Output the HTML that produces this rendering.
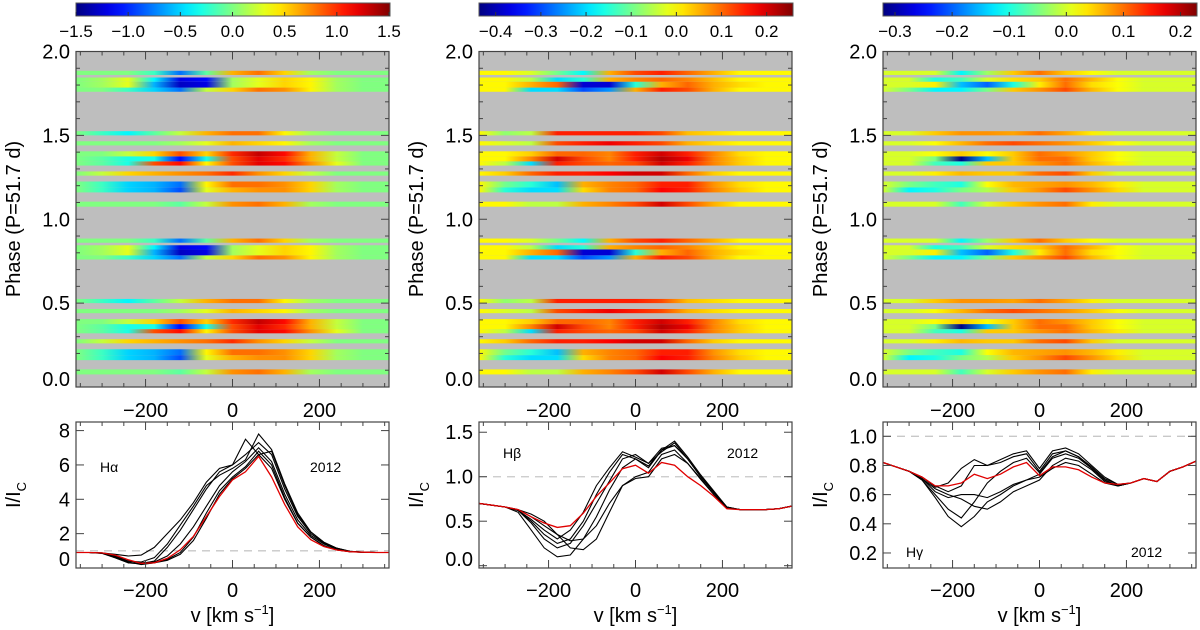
<!DOCTYPE html>
<html><head><meta charset="utf-8"><style>
html,body{margin:0;padding:0;background:#fff}
svg{display:block;font-family:"Liberation Sans",sans-serif}
</style></head><body>
<svg id="fig" width="1200" height="630" viewBox="0 0 1200 630" xmlns="http://www.w3.org/2000/svg"></svg>
<script>
// ---------- DATA ----------
const velocityNodes = [-360,-300,-240,-180,-120,-60,0,60,120,180,240,300,360];
const rowPhaseLow  = [0.075,0.16,0.19,0.26,0.32,0.345,0.375,0.44,0.50,0.76,0.785,0.82,0.86];
const rowPhaseHigh = [0.105,0.19,0.225,0.285,0.345,0.375,0.405,0.465,0.525,0.785,0.82,0.845,0.885];
const haRows = [
[0,0,0,0,-0.1,0.2,0.7,0.8,0.6,0.1,0,0,0],
[0,-0.2,-0.5,-0.6,-0.9,0.3,0.6,0.7,0.7,0.5,0.1,0,0],
[0,-0.2,-0.5,-0.6,-0.8,0.4,0.8,0.8,0.7,0.5,0.1,0,0],
[0,0.2,0.5,0.6,0.7,0.8,1.0,0.7,0.5,0.2,0,0,0],
[0,-0.1,-0.3,0.9,1.1,0.4,0.9,1.2,1.1,0.7,0.3,0,0],
[0,-0.1,-0.3,-0.3,-1.1,-0.3,0.9,1.2,1.0,0.6,0.2,0,0],
[0,0,0.2,0.5,0.9,0.5,1.0,1.3,1.1,0.6,0.2,0,0],
[0,0,0,0,0.1,0.3,0.6,0.5,0.4,0.1,0,0,0],
[0,-0.2,-0.4,-0.1,0.2,0.6,0.8,0.8,0.4,0.1,0,0,0],
[0,0,-0.2,-0.5,-0.8,0.2,0.5,0.8,0.7,0.4,0.1,0,0],
[0,0.1,0.3,-0.6,-1.3,-1.2,0.1,0.3,0.5,0.4,0.1,0,0],
[0,0.1,0.3,-0.4,-1.2,-1.1,0.1,0.3,0.5,0.4,0.1,0,0],
[0,0,0,-0.2,-0.8,-0.1,0.6,0.8,0.5,0.1,0,0,0]];
const hbRows = [
[0,0,-0.05,-0.05,0.05,0.08,0.12,0.2,0.12,0.05,0,0,0],
[0,-0.15,-0.2,-0.2,0.02,0.08,0.1,0.17,0.15,0.08,0.03,0,0],
[0,-0.1,-0.15,-0.22,0.05,0.08,0.1,0.15,0.15,0.07,0.02,0,0],
[0,0.03,0.1,0.15,0.15,0.17,0.2,0.2,0.1,0.03,0,0,0],
[0,-0.05,-0.2,0.15,0.12,0.1,0.12,0.2,0.15,0.08,0.03,0,0],
[0,0,0.08,0.2,0.12,0.08,0.15,0.22,0.18,0.08,0.03,0,0],
[0,0,0.03,0.1,0.1,0.08,0.15,0.2,0.15,0.08,0.02,0,0],
[0,-0.03,-0.05,0.12,0.15,0.18,0.15,0.12,0.05,0.02,0,0,0],
[0,-0.08,-0.05,0.15,0.15,0.15,0.15,0.12,0.04,0.02,0,0,0],
[0,0,-0.2,-0.2,-0.3,-0.25,0.05,0.15,0.12,0.05,0,0,0],
[0,0,0.05,0.1,-0.38,-0.38,-0.15,0.05,0.1,0.05,0.02,0,0],
[0,0,-0.05,-0.2,-0.15,0.05,0.08,0.1,0.08,0.04,0,0,0],
[0,0,-0.03,-0.1,-0.18,0.05,0.12,0.15,0.1,0.05,0,0,0]];
const hgRows = [
[0,0,0,-0.08,0,0.05,0.08,0.1,0.03,0,0,0,0],
[0,-0.12,-0.1,-0.05,-0.02,0.05,0.08,0.12,0.08,0.04,0,0,0],
[0,-0.05,-0.08,-0.1,0.02,0.06,0.07,0.08,0.06,0.03,0,0,0],
[0,0,0.03,0.06,0.05,0.05,0.1,0.12,0.05,0,0,0,0],
[0,0,-0.08,-0.1,0.05,0.05,0.08,0.1,0.06,0.03,0,0,0],
[0,0,-0.05,-0.32,-0.15,0.05,0.1,0.1,0.05,0.02,0,0,0],
[0,0,0.02,0.05,0.02,0.05,0.1,0.08,0.05,0.02,0,0,0],
[0,0,0.02,0.06,0.1,0.12,0.1,0.08,0.05,0.02,0,0,0],
[0,0,0.05,0.08,0.08,0.07,0.1,0.07,0.03,0,0,0,0],
[0,-0.05,-0.12,-0.12,-0.05,0.05,0.08,0.12,0.06,0.02,0,0,0],
[0,0,0.03,-0.15,-0.2,-0.1,0.03,0.1,0.04,0.02,0,0,0],
[0,0,-0.1,-0.08,0,0.04,0.05,0.1,0.06,0.02,0,0,0],
[0,0,0,-0.12,-0.03,0.05,0.1,0.05,0.02,0,0,0,0]];
const haTicks = ["−1.5","−1.0","−0.5","0.0","0.5","1.0","1.5"];
const haTickVals = [-1.5,-1.0,-0.5,0,0.5,1.0,1.5];
const hbTicks = ["−0.4","−0.3","−0.2","−0.1","0.0","0.1","0.2"];
const hbTickVals = [-0.4,-0.3,-0.2,-0.1,0,0.1,0.2];
const hgTicks = ["−0.3","−0.2","−0.1","0.0","0.1","0.2"];
const hgTickVals = [-0.3,-0.2,-0.1,0,0.1,0.2];

const profVel = [-360,-330,-300,-270,-240,-210,-180,-150,-120,-90,-60,-30,0,30,60,90,120,150,180,210,240,270,300,330,360];
const haRed = [0.9,0.9,0.88,0.75,0.48,0.27,0.3,0.56,1.06,1.84,3.0,4.16,5.13,5.6,6.5,5.3,3.7,2.4,1.65,1.25,1.05,0.95,0.92,0.9,0.9];
const haBlack = [
[0.9,0.9,0.88,0.7,0.4,0.3,0.35,0.7,1.4,2.4,3.6,4.8,5.6,6.2,7.0,6.2,4.3,2.8,1.9,1.4,1.1,0.95,0.92,0.9,0.9],
[0.9,0.9,0.85,0.6,0.3,0.25,0.4,1.2,2.2,3.4,4.6,5.6,6.0,6.6,7.3,6.6,4.6,3.0,2.0,1.45,1.1,0.95,0.92,0.9,0.9],
[0.9,0.9,0.88,0.8,0.7,0.75,1.2,2.0,2.8,3.8,5.0,5.8,6.0,7.5,6.6,6.8,4.8,3.1,2.1,1.5,1.15,0.97,0.92,0.9,0.9],
[0.9,0.9,0.86,0.65,0.35,0.2,0.3,0.5,0.9,1.8,3.2,4.5,5.3,5.9,6.8,6.0,4.1,2.6,1.8,1.3,1.05,0.95,0.92,0.9,0.9],
[0.9,0.9,0.87,0.7,0.4,0.35,0.6,1.4,2.5,3.6,4.8,5.4,5.8,6.3,7.8,6.9,4.9,3.2,2.1,1.5,1.15,0.97,0.92,0.9,0.9],
[0.9,0.9,0.86,0.6,0.3,0.25,0.3,0.45,0.8,1.6,2.9,4.3,5.2,5.8,6.6,5.8,4.0,2.6,1.8,1.3,1.05,0.95,0.92,0.9,0.9]];
const hbRed = [0.70,0.68,0.66,0.63,0.55,0.48,0.43,0.45,0.59,0.78,0.93,1.09,1.13,1.04,1.16,1.13,1.0,0.9,0.78,0.64,0.63,0.63,0.63,0.64,0.67];
const hbBlack = [
[0.70,0.68,0.66,0.6,0.4,0.2,0.1,0.12,0.3,0.55,0.85,1.1,1.2,1.1,1.3,1.35,1.2,1.0,0.82,0.65,0.63,0.63,0.63,0.64,0.67],
[0.70,0.68,0.66,0.62,0.5,0.35,0.25,0.3,0.5,0.8,1.05,1.25,1.2,1.12,1.3,1.4,1.22,1.02,0.84,0.66,0.63,0.63,0.63,0.64,0.67],
[0.70,0.68,0.66,0.63,0.55,0.45,0.35,0.28,0.3,0.45,0.7,0.9,0.98,1.0,1.2,1.25,1.15,0.98,0.8,0.65,0.63,0.63,0.63,0.64,0.67],
[0.70,0.68,0.66,0.62,0.48,0.3,0.2,0.25,0.45,0.7,0.95,1.2,1.25,1.15,1.32,1.35,1.2,1.0,0.82,0.66,0.63,0.63,0.63,0.64,0.67],
[0.70,0.68,0.66,0.63,0.58,0.5,0.35,0.2,0.18,0.3,0.6,0.9,1.0,1.05,1.25,1.3,1.15,0.97,0.8,0.65,0.63,0.63,0.63,0.64,0.67],
[0.70,0.68,0.66,0.62,0.52,0.4,0.3,0.4,0.6,0.9,1.1,1.28,1.22,1.15,1.28,1.38,1.2,1.0,0.83,0.66,0.63,0.63,0.63,0.64,0.67]];
const hgRed = [0.82,0.79,0.76,0.72,0.66,0.66,0.68,0.74,0.71,0.74,0.79,0.82,0.73,0.79,0.79,0.77,0.72,0.68,0.67,0.68,0.71,0.69,0.76,0.79,0.83];
const hgBlack = [
[0.82,0.79,0.76,0.7,0.58,0.45,0.38,0.45,0.55,0.6,0.66,0.7,0.72,0.78,0.82,0.8,0.74,0.68,0.66,0.68,0.71,0.69,0.76,0.79,0.83],
[0.82,0.79,0.76,0.72,0.65,0.68,0.78,0.84,0.8,0.84,0.88,0.9,0.78,0.9,0.92,0.88,0.8,0.72,0.67,0.68,0.71,0.69,0.76,0.79,0.83],
[0.82,0.79,0.76,0.71,0.62,0.58,0.6,0.6,0.58,0.62,0.67,0.7,0.74,0.85,0.88,0.85,0.78,0.7,0.66,0.68,0.71,0.69,0.76,0.79,0.83],
[0.82,0.79,0.76,0.72,0.66,0.62,0.66,0.8,0.8,0.82,0.86,0.88,0.76,0.88,0.9,0.86,0.79,0.71,0.67,0.68,0.71,0.69,0.76,0.79,0.83],
[0.82,0.79,0.76,0.7,0.6,0.5,0.44,0.55,0.68,0.76,0.82,0.85,0.75,0.86,0.9,0.86,0.78,0.7,0.66,0.68,0.71,0.69,0.76,0.79,0.83],
[0.82,0.79,0.76,0.71,0.64,0.6,0.57,0.52,0.5,0.55,0.62,0.66,0.7,0.8,0.85,0.83,0.77,0.69,0.66,0.68,0.71,0.69,0.76,0.79,0.83]];

// ---------- RENDER ----------
const NS="http://www.w3.org/2000/svg";
const svg=document.getElementById('fig');
const defs=document.createElementNS(NS,'defs');svg.appendChild(defs);
function mk(tag,attrs,parent){const e=document.createElementNS(NS,tag);for(const k in attrs)e.setAttribute(k,attrs[k]);(parent||svg).appendChild(e);return e;}
function jet(t){t=Math.max(0,Math.min(1,t));const c=x=>Math.round(255*Math.max(0,Math.min(1,1.5-Math.abs(x))));return `rgb(${c(4*t-3)},${c(4*t-2)},${c(4*t-1)})`;}
let gid=0;
const panels=[
 {key:'ha',x0:76,x1:389,rows:haRows,cmin:-1.5,cmax:1.5,ticks:haTicks,tickVals:haTickVals,red:haRed,black:haBlack,ymin:0,ymax:8.5,yt:[0,2,4,6,8],ytl:["0","2","4","6","8"],line:'Hα',lx:100,ly:472,yx:310,yy:472},
 {key:'hb',x0:479,x1:792,rows:hbRows,cmin:-0.437,cmax:0.256,ticks:hbTicks,tickVals:hbTickVals,red:hbRed,black:hbBlack,ymin:-0.026,ymax:1.615,yt:[0,0.5,1.0,1.5],ytl:["0.0","0.5","1.0","1.5"],line:'Hβ',lx:503,ly:458,yx:727,yy:458},
 {key:'hg',x0:883,x1:1196,rows:hgRows,cmin:-0.321,cmax:0.227,ticks:hgTicks,tickVals:hgTickVals,red:hgRed,black:hgBlack,ymin:0.097,ymax:1.098,yt:[0.2,0.4,0.6,0.8,1.0],ytl:["0.2","0.4","0.6","0.8","1.0"],line:'Hγ',lx:906,ly:557,yx:1131,yy:557}
];
const VMIN=-360,VMAX=360;
panels.forEach(p=>{
  const g=mk('g',{});
  
  
  const xs=v=>p.x0+(v-VMIN)/(VMAX-VMIN)*(p.x1-p.x0);
  const tc=v=>(v-p.cmin)/(p.cmax-p.cmin);
  const cg=mk('linearGradient',{id:'cb'+p.key,x1:0,x2:1,y1:0,y2:0},defs);
  for(let i=0;i<=20;i++)mk('stop',{offset:i/20,'stop-color':jet(i/20)},cg);
  const cb=mk('rect',{x:p.x0,y:3,width:p.x1-p.x0+1,height:13,fill:`url(#cb${p.key})`,stroke:'#555','stroke-width':1},g);
  
  
  p.tickVals.forEach((tv,i)=>{
    const x=p.x0+tc(tv)*(p.x1-p.x0);
    mk('line',{x1:x,x2:x,y1:16,y2:12,stroke:'#333'},g);
    const t=mk('text',{x:x,y:37,'font-size':17,'text-anchor':'middle'},g);
    t.textContent=p.ticks[i];
    
    
  });
  const HT=51.5,HB=387;
  const ys=ph=>HB-ph/2*(HB-HT);
  const bg=mk('rect',{x:p.x0,y:HT,width:p.x1-p.x0,height:HB-HT,fill:'#bebebe'},g);
  
  
  p.rows.forEach((row,ri)=>{
    const id='rg'+(gid++);
    const lg=mk('linearGradient',{id:id,x1:0,x2:1,y1:0,y2:0},defs);
    row.forEach((val,ni)=>mk('stop',{offset:(velocityNodes[ni]-VMIN)/(VMAX-VMIN),'stop-color':jet(tc(val))},lg));
    [0,1].forEach(cyc=>{
      const yA=ys(rowPhaseHigh[ri]+cyc),yB=ys(rowPhaseLow[ri]+cyc);
      const r=mk('rect',{x:p.x0,y:yA,width:p.x1-p.x0,height:yB-yA,fill:`url(#${id})`},g);
      
      
    });
  });
  mk('rect',{x:p.x0,y:HT,width:p.x1-p.x0,height:HB-HT,fill:'none',stroke:'#444','stroke-width':1.2},g);
  for(let v=-350;v<=350;v+=50){const x=xs(v);const L=(v%200===0)?8:4;
    mk('line',{x1:x,x2:x,y1:HB,y2:HB-L,stroke:'#444'},g);mk('line',{x1:x,x2:x,y1:HT,y2:HT+L,stroke:'#444'},g);}
  for(let k=0;k<=20;k++){const y=ys(k/10);const L=(k%5===0)?8:4;
    mk('line',{x1:p.x0,x2:p.x0+L,y1:y,y2:y,stroke:'#444'},g);mk('line',{x1:p.x1,x2:p.x1-L,y1:y,y2:y,stroke:'#444'},g);}
  [[0,"0.0",379],[0.5,"0.5",ys(0.5)],[1.0,"1.0",ys(1)],[1.5,"1.5",ys(1.5)],[2.0,"2.0",ys(2)]].forEach(a=>{
    const t=mk('text',{x:p.x0-6,y:a[2]+7,'font-size':20,'text-anchor':'end'},g);t.textContent=a[1];
    
    
  });
  const yl=mk('text',{x:0,y:0,'font-size':20,'text-anchor':'middle',transform:`translate(${p.x0-56},219) rotate(-90)`},g);
  yl.textContent='Phase (P=51.7 d)';
  
  
  [-200,0,200].forEach(v=>{const t=mk('text',{x:xs(v),y:417,'font-size':20,'text-anchor':'middle'},g);t.textContent=v<0?'−'+Math.abs(v):String(v);
    
    });
  const PT=422,PB=568;
  const py=val=>PB-(val-p.ymin)/(p.ymax-p.ymin)*(PB-PT);
  mk('line',{x1:p.x0,x2:p.x1,y1:py(1),y2:py(1),stroke:'#c8c8c8','stroke-width':1.3,'stroke-dasharray':'8,6'},g);
  p.black.forEach(arr=>{
    const d=arr.map((val,i)=>(i?'L':'M')+xs(profVel[i]).toFixed(1)+','+py(val).toFixed(1)).join('');
    const pa=mk('path',{d:d,fill:'none',stroke:'#000','stroke-width':1.1},g);
    
    
  });
  const dR=p.red.map((val,i)=>(i?'L':'M')+xs(profVel[i]).toFixed(1)+','+py(val).toFixed(1)).join('');
  const pr=mk('path',{d:dR,fill:'none',stroke:'#e00000','stroke-width':1.3},g);
  
  
  mk('rect',{x:p.x0,y:PT,width:p.x1-p.x0,height:PB-PT,fill:'none',stroke:'#444','stroke-width':1.2},g);
  for(let v=-350;v<=350;v+=50){const x=xs(v);const L=(v%200===0)?8:4;
    mk('line',{x1:x,x2:x,y1:PB,y2:PB-L,stroke:'#444'},g);mk('line',{x1:x,x2:x,y1:PT,y2:PT+L,stroke:'#444'},g);}
  p.yt.forEach((tv,i)=>{const y=py(tv);
    mk('line',{x1:p.x0,x2:p.x0+8,y1:y,y2:y,stroke:'#444'},g);mk('line',{x1:p.x1,x2:p.x1-8,y1:y,y2:y,stroke:'#444'},g);
    const yy=Math.min(y+7,PB-2);
    const t=mk('text',{x:p.x0-6,y:yy,'font-size':20,'text-anchor':'end'},g);t.textContent=p.ytl[i];
    
    });
  [-200,0,200].forEach(v=>{const t=mk('text',{x:xs(v),y:597,'font-size':20,'text-anchor':'middle'},g);t.textContent=v<0?'−'+Math.abs(v):String(v);
    
    });
  const xl=mk('text',{x:(p.x0+p.x1)/2,y:622,'font-size':20,'text-anchor':'middle'},g);
  xl.innerHTML='v [km s<tspan dy="-8" font-size="13">−1</tspan><tspan dy="8">]</tspan>';
  
  
  const il=mk('text',{x:0,y:0,'font-size':20,'text-anchor':'middle',transform:`translate(${p.x0-56},495) rotate(-90)`},g);
  il.innerHTML='I/I<tspan dy="6" font-size="13">C</tspan>';
  
  
  const ln=mk('text',{x:p.lx,y:p.ly,'font-size':14},g);ln.textContent=p.line;
  
  
  const yr=mk('text',{x:p.yx,y:p.yy,'font-size':14},g);yr.textContent='2012';
  
  
});
</script>
</body></html>
